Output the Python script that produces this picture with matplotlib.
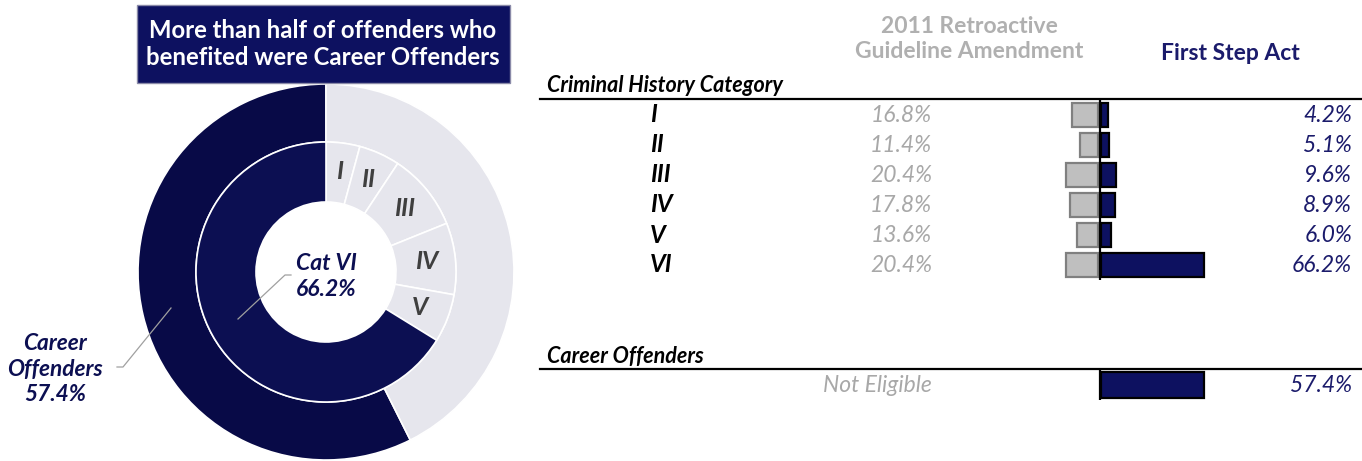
import numpy as np
import matplotlib.pyplot as plt
from matplotlib.patches import Rectangle
from matplotlib.lines import Line2D

# Données
categories = ['I', 'II', 'III', 'IV', 'V', 'VI']
retro_2011 = [16.8, 11.4, 20.4, 17.8, 13.6, 20.4]
first_step = [4.2, 5.1, 9.6, 8.9, 6.0, 66.2]
career_share = 57.4          # part des Career Offenders (First Step Act)
outer_values = [career_share, 100 - career_share]

W, H = 1362, 461
NAVY = '#0C0F52'
NAVY_DARK = '#080A47'
LIGHT = '#E6E6ED'
GREY_TXT = '#A8A8A8'
DARK_TXT = '#3F3F3F'
FONT = 'Lato'

plt.rcParams['font.family'] = [FONT, 'DejaVu Sans']

fig = plt.figure(figsize=(W / 100, H / 100), dpi=100)


def fx(x):
    return x / W


def fy(y):
    return 1 - y / H


def px_axes(x0, y0, x1, y1):
    # axes placé en pixels (origine en haut à gauche)
    return fig.add_axes([fx(x0), fy(y1), (x1 - x0) / W, (y1 - y0) / H])


def fig_line(xs, ys, **kw):
    fig.add_artist(Line2D([fx(x) for x in xs], [fy(y) for y in ys],
                          transform=fig.transFigure, **kw))


def fig_text(x, y, s, **kw):
    fig.text(fx(x), fy(y), s, **kw)


# ---------------- Donut ----------------
cx, cy = 326, 272
half = 200
ax = px_axes(cx - half, cy - half, cx + half, cy + half)
R_OUT, R_MID, R_HOLE = 188, 130, 70

# anneau extérieur : Career Offenders vers la gauche depuis midi
ax.pie(outer_values, radius=R_OUT, startangle=90, counterclock=True,
       colors=[NAVY_DARK, LIGHT],
       wedgeprops=dict(width=R_OUT - R_MID, edgecolor='white', linewidth=1.2))
# anneau intérieur : catégories dans le sens horaire
ax.pie(first_step, radius=R_MID, startangle=90, counterclock=False,
       colors=[LIGHT] * 5 + [NAVY],
       wedgeprops=dict(width=R_MID - R_HOLE, edgecolor='white', linewidth=1.2))
ax.set_xlim(-half, half)
ax.set_ylim(-half, half)
ax.set_aspect('equal')
ax.axis('off')

# étiquettes I..V dans l'anneau intérieur
cum = np.cumsum([0] + first_step[:-1])
for lab, start, val in zip(categories[:-1], cum[:-1], first_step[:-1]):
    ang = np.deg2rad(90 - 360 * (start + val / 2) / 100)
    r = 101
    ax.text(r * np.cos(ang), r * np.sin(ang), lab, ha='center', va='center',
            fontsize=18, fontweight='bold', style='italic', color=DARK_TXT)

# étiquette centrale Cat VI
ax.text(0, 272 - 263, 'Cat VI', ha='center', va='center', fontsize=16.5,
        fontweight='bold', style='italic', color=NAVY)
ax.text(0, 272 - 290, f'{first_step[-1]:.1f}%', ha='center', va='center',
        fontsize=16.5, fontweight='bold', style='italic', color=NAVY)
fig_line([238, 285, 291], [319, 275, 275], color='#A0A0A0', lw=0.9)

# étiquette Career Offenders
fig_text(55, 369, f'Career\nOffenders\n{career_share:.1f}%', ha='center',
         va='center', fontsize=16.3, fontweight='bold', style='italic',
         color=NAVY, linespacing=1.25)
fig_line([171, 123, 117], [308, 367, 367], color='#A0A0A0', lw=0.9)

# bandeau titre
fig.add_artist(Rectangle((fx(137), fy(83)), (510 - 137) / W, (83 - 5) / H,
                         transform=fig.transFigure, facecolor='#0D1160',
                         edgecolor='#8A8AA8', linewidth=1))
fig_text(323, 44, 'More than half of offenders who\nbenefited were Career Offenders',
         ha='center', va='center', fontsize=17.2, fontweight='bold',
         color='white', linespacing=1.2)

# ---------------- Tableau ----------------
fig_text(969, 39, '2011 Retroactive\nGuideline Amendment', ha='center',
         va='center', fontsize=16.5, fontweight='bold', color='#B0B0B0',
         linespacing=1.2)
fig_text(1230, 54, 'First Step Act', ha='center', va='center', fontsize=16.5,
         fontweight='bold', color='#1B1B6B')
fig_text(547, 86, 'Criminal History Category', ha='left', va='center',
         fontsize=15.5, fontweight='bold', style='italic', color='black')
fig_text(547, 356, 'Career Offenders', ha='left', va='center',
         fontsize=15.5, fontweight='bold', style='italic', color='black')
fig_line([540, 1362], [99, 99], color='black', lw=1.6)
fig_line([540, 1362], [369, 369], color='black', lw=1.6)

row0, step = 115, 30
for i, (lab, a, b) in enumerate(zip(categories, retro_2011, first_step)):
    y = row0 + i * step
    fig_text(650, y, lab, ha='left', va='center', fontsize=17.5,
             fontweight='bold', style='italic', color='black')
    fig_text(932, y, f'{a:.1f}%', ha='right', va='center', fontsize=16.5,
             style='italic', color=GREY_TXT)
    fig_text(1352, y, f'{b:.1f}%', ha='right', va='center', fontsize=16.5,
             style='italic', color='#1B1B6B')

fig_text(932, 385, 'Not Eligible', ha='right', va='center', fontsize=16.5,
         style='italic', color=GREY_TXT)
fig_text(1352, 385, f'{career_share:.1f}%', ha='right', va='center',
         fontsize=16.5, style='italic', color='#1B1B6B')

# barres par catégorie
scale = 1.56   # pixels par point de pourcentage
x_zero, bx0, bx1 = 1100, 1040, 1240
gap = 1.3
axb = px_axes(bx0, 100, bx1, 280)
y_pos = np.arange(len(categories))
axb.barh(y_pos, [-v for v in retro_2011], left=-gap, height=0.83,
         color='#BFBFBF', edgecolor='#808080', linewidth=1.6)
axb.barh(y_pos, first_step, left=gap * 0.6, height=0.83,
         color='#0D1160', edgecolor='black', linewidth=1.6)
axb.axvline(0, color='black', lw=1.6)
axb.set_xlim(-(x_zero - bx0) / scale, (bx1 - x_zero) / scale)
axb.set_ylim(len(categories) - 0.5, -0.5)
axb.axis('off')

# barre Career Offenders (échelle propre)
scale_c = 103 / career_share
axc = px_axes(bx0, 370, bx1, 400)
axc.barh([0], [career_share], left=gap * 0.6 * scale / scale_c, height=0.87,
         color='#0D1160', edgecolor='black', linewidth=1.6)
axc.axvline(0, color='black', lw=1.6)
axc.set_xlim(-(x_zero - bx0) / scale_c, (bx1 - x_zero) / scale_c)
axc.set_ylim(0.5, -0.5)
axc.axis('off')

fig.savefig('out.png', dpi=100)
